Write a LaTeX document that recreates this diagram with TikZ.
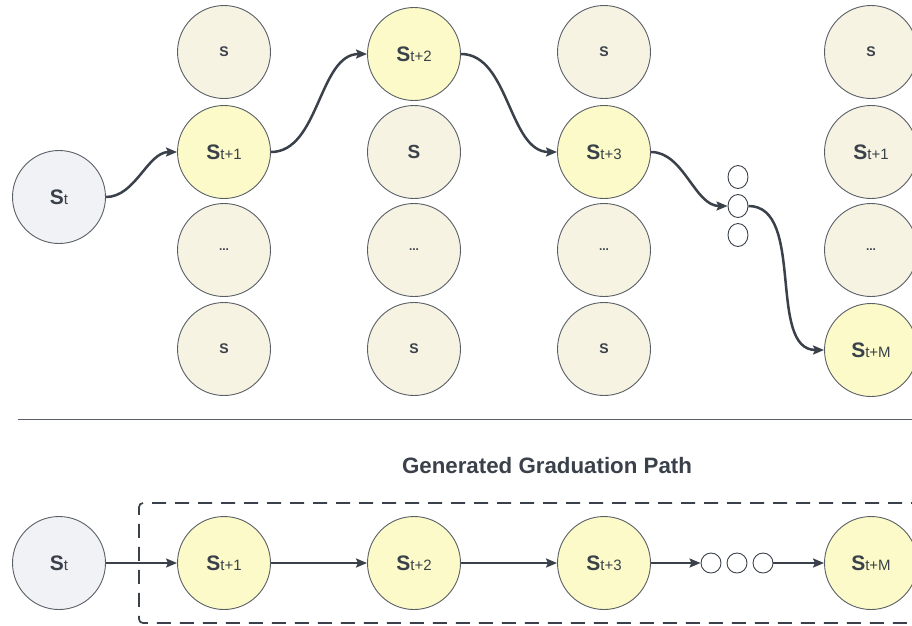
\documentclass[tikz,border=0pt]{standalone}
\usepackage{fontspec}
\setmainfont{Liberation Sans}
\usetikzlibrary{arrows.meta,shapes.geometric}
\definecolor{ink}{HTML}{3A414A}
\definecolor{rim}{HTML}{5A5F66}
\definecolor{greyfill}{HTML}{F1F2F5}
\definecolor{yelfill}{HTML}{FBFAC8}
\definecolor{beigefill}{HTML}{F6F3E3}
\newcommand{\bigS}[1]{{\fontsize{21}{21}\selectfont\bfseries S}{\fontsize{15}{15}\selectfont\raisebox{-0.5pt}{#1}}}
\newcommand{\smallS}{{\fontsize{14}{14}\selectfont\bfseries S}}
\newcommand{\dotsS}{{\fontsize{12}{12}\selectfont\bfseries ...}}
\begin{document}
\begin{tikzpicture}[x=1pt,y=-1pt,
  state/.style={circle,draw=rim,line width=0.9pt,minimum size=93pt,inner sep=0pt,text=ink},
  startst/.style={state,fill=greyfill},
  chosen/.style={state,fill=yelfill},
  other/.style={state,fill=beigefill},
  minidot/.style={ellipse,draw=ink,line width=0.9pt,fill=white,minimum width=20pt,minimum height=23pt,inner sep=0pt},
  minicirc/.style={circle,draw=ink,line width=0.9pt,fill=white,minimum size=20pt,inner sep=0pt},
  flow/.style={draw=ink,line width=2.5pt,-{Stealth[length=11pt,width=9pt,inset=2pt]}},
  thinflow/.style={draw=ink,line width=1.9pt,-{Stealth[length=11pt,width=9pt,inset=2pt]}}
]
\useasboundingbox (0,0) rectangle (912,625);
\fill[white] (0,0) rectangle (912,625);
% top part
\node[startst] (s0) at (59,197) {\bigS{t}};
\node[other] (a1) at (224,52) {\smallS};
\node[chosen] (a2) at (224,152) {\bigS{t+1}};
\node[other] (a3) at (224,250) {\dotsS};
\node[other] (a4) at (224,349) {\smallS};
\node[chosen] (b1) at (414,54) {\bigS{t+2}};
\node[other] (b2) at (414,152) {\fontsize{19}{19}\selectfont\bfseries S};
\node[other] (b3) at (414,250) {\dotsS};
\node[other] (b4) at (414,349) {\smallS};
\node[other] (c1) at (604,52) {\smallS};
\node[chosen] (c2) at (604,152) {\bigS{t+3}};
\node[other] (c3) at (604,250) {\dotsS};
\node[other] (c4) at (604,349) {\smallS};
\node[minidot] (e1) at (738,177) {};
\node[minidot] (e2) at (738,206) {};
\node[minidot] (e3) at (738,235) {};
\node[other] (d1) at (871,52) {\smallS};
\node[other] (d2) at (871,152) {\bigS{t+1}};
\node[other] (d3) at (871,250) {\dotsS};
\node[chosen] (d4) at (871,350) {\bigS{t+M}};
\draw[flow] (s0.east) to[out=0,in=180,looseness=0.9] (a2.west);
\draw[flow] (a2.east) to[out=0,in=180,looseness=0.9] (b1.west);
\draw[flow] (b1.east) to[out=0,in=180,looseness=0.9] (c2.west);
\draw[flow] (c2.east) to[out=0,in=180,looseness=0.9] (e2.west);
\draw[flow] (e2.east) to[out=0,in=180,looseness=0.9] (d4.west);
% separator
\coordinate (sepL) at (18,419);
\coordinate (sepR) at (912,419);
\draw[rim,line width=0.9pt] (sepL) -- (sepR);
\node[text=ink,font=\fontsize{22.3}{22}\selectfont\bfseries] (title) at (547,466) {Generated Graduation Path};
% bottom part
\draw[ink,line width=1.7pt,dash pattern=on 14pt off 9pt,rounded corners=4pt] (925,503) -- (139,503) -- (139,623) -- (925,623);
\node[startst] (p0) at (59,563) {\bigS{t}};
\node[chosen] (p1) at (224,563) {\bigS{t+1}};
\node[chosen] (p2) at (414,563) {\bigS{t+2}};
\node[chosen] (p3) at (604,563) {\bigS{t+3}};
\node[minicirc] (q1) at (711,563) {};
\node[minicirc] (q2) at (737,563) {};
\node[minicirc] (q3) at (763,563) {};
\node[chosen] (p4) at (871,563) {\bigS{t+M}};
\draw[thinflow] (p0) -- (p1);
\draw[flow] (p1) -- (p2);
\draw[flow] (p2) -- (p3);
\draw[flow] (p3) -- (q1);
\draw[flow] (q3) -- (p4);
\end{tikzpicture}
\end{document}
